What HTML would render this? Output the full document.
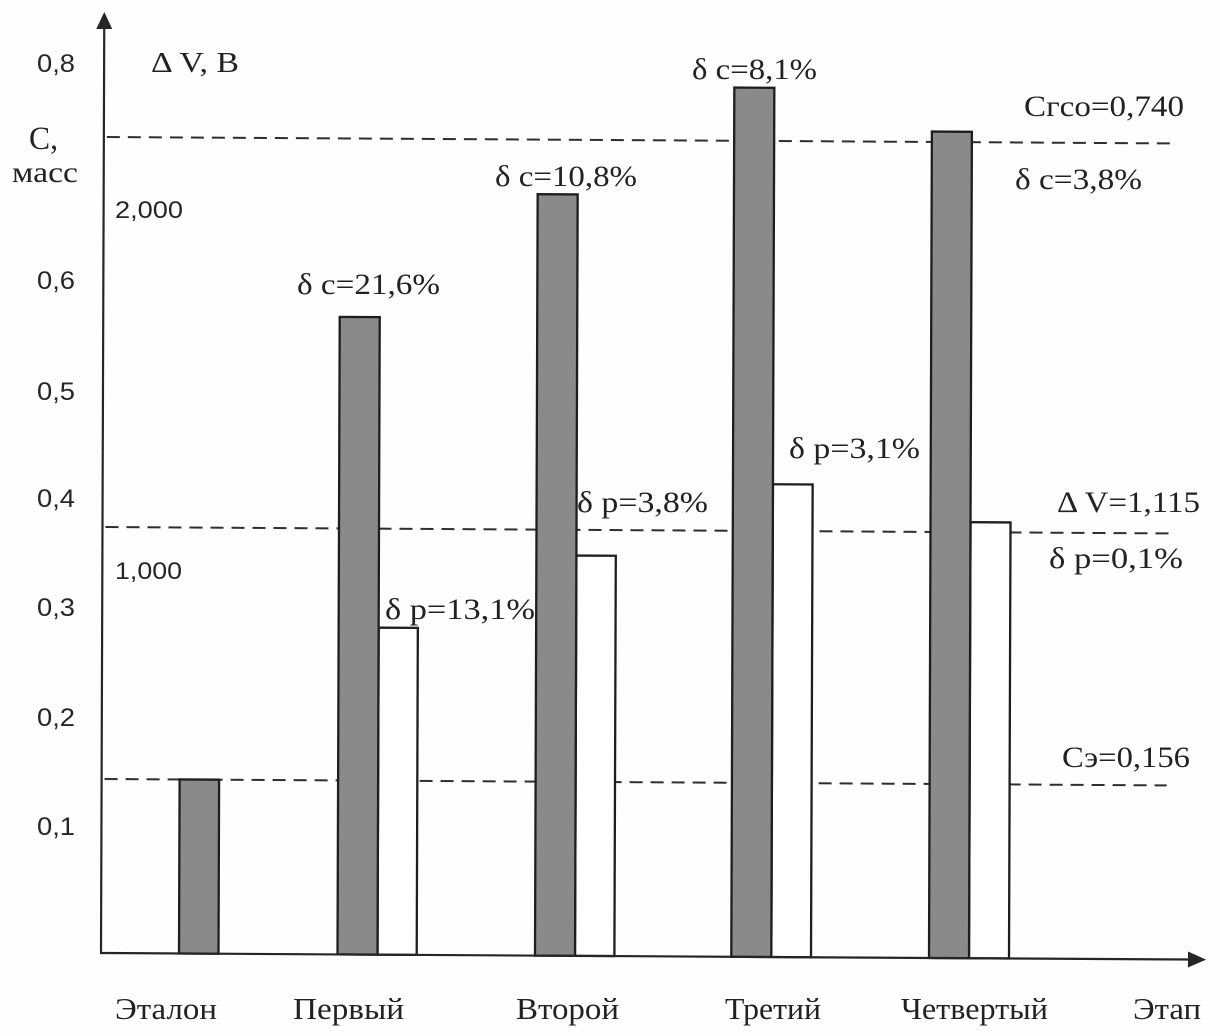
<!DOCTYPE html>
<html>
<head>
<meta charset="utf-8">
<style>
  html, body { margin: 0; padding: 0; background: #fefefe; }
  svg { display: block; }
  .s { font-family: "Liberation Serif", "DejaVu Serif", serif; fill: #222; }
  .a { font-family: "Liberation Sans", "DejaVu Sans", sans-serif; fill: #262626; }
</style>
</head>
<body>
<svg width="1220" height="1036" viewBox="0 0 1220 1036" xmlns="http://www.w3.org/2000/svg">
  <rect x="0" y="0" width="1220" height="1036" fill="#fefefe"/>

  <g transform="matrix(1,0.006,-0.0035,1,3.3355,-0.606)">
    <!-- dashed reference lines -->
    <g stroke="#2e2e2e" stroke-width="2" stroke-dasharray="13 8" fill="none">
      <line x1="104" y1="137" x2="1170" y2="137"/>
      <line x1="104" y1="527" x2="1168" y2="527"/>
      <line x1="104" y1="779" x2="1166" y2="779"/>
    </g>

    <!-- white bars -->
    <g fill="#ffffff" stroke="#1e1e1e" stroke-width="2.3">
      <rect x="377.5" y="626" width="39.2" height="327"/>
      <rect x="575" y="552.7" width="39.4" height="400.3"/>
      <rect x="771.3" y="480.2" width="39.7" height="472.8"/>
      <rect x="969" y="517" width="40" height="436"/>
    </g>

    <!-- dark bars -->
    <g fill="#8a8a8a" stroke="#1e1e1e" stroke-width="2.3">
      <rect x="179" y="779" width="39.5" height="174"/>
      <rect x="337.5" y="315.5" width="40" height="637.5"/>
      <rect x="535" y="191.6" width="40" height="761.4"/>
      <rect x="731.3" y="83.8" width="40" height="869.2"/>
      <rect x="929" y="126.6" width="40" height="826.4"/>
    </g>

    <!-- axes -->
    <g stroke="#262626" stroke-width="2.2" fill="none">
      <line x1="101" y1="953" x2="101" y2="26"/>
      <line x1="100" y1="953" x2="1190" y2="953"/>
    </g>
    <polygon points="101,12 93,29 109,29" fill="#262626"/>
    <polygon points="1206,953 1188,945 1188,961" fill="#262626"/>
  </g>

  <!-- left axis labels (sans) -->
  <text class="a" x="37" y="72" font-size="25" textLength="38" lengthAdjust="spacingAndGlyphs">0,8</text>
  <text class="a" x="37" y="289" font-size="25" textLength="38" lengthAdjust="spacingAndGlyphs">0,6</text>
  <text class="a" x="37" y="400" font-size="25" textLength="38" lengthAdjust="spacingAndGlyphs">0,5</text>
  <text class="a" x="37" y="507" font-size="25" textLength="38" lengthAdjust="spacingAndGlyphs">0,4</text>
  <text class="a" x="37" y="616" font-size="25" textLength="38" lengthAdjust="spacingAndGlyphs">0,3</text>
  <text class="a" x="37" y="726" font-size="25" textLength="38" lengthAdjust="spacingAndGlyphs">0,2</text>
  <text class="a" x="37" y="835" font-size="25" textLength="38" lengthAdjust="spacingAndGlyphs">0,1</text>
  <text class="a" x="115" y="218" font-size="24" textLength="68" lengthAdjust="spacingAndGlyphs">2,000</text>
  <text class="a" x="115" y="579" font-size="24" textLength="67" lengthAdjust="spacingAndGlyphs">1,000</text>

  <!-- axis titles -->
  <text class="s" x="151" y="72" font-size="29" textLength="88" lengthAdjust="spacingAndGlyphs">Δ V, В</text>
  <text class="s" x="29" y="149" font-size="33" textLength="29" lengthAdjust="spacingAndGlyphs">С,</text>
  <text class="s" x="12" y="182" font-size="30" textLength="66" lengthAdjust="spacingAndGlyphs">масс</text>

  <!-- annotations -->
  <text class="s" x="297" y="294" font-size="30" textLength="143" lengthAdjust="spacingAndGlyphs">δ с=21,6%</text>
  <text class="s" x="495" y="186" font-size="30" textLength="142" lengthAdjust="spacingAndGlyphs">δ с=10,8%</text>
  <text class="s" x="692" y="79" font-size="30" textLength="125" lengthAdjust="spacingAndGlyphs">δ с=8,1%</text>
  <text class="s" x="1024" y="116" font-size="30" textLength="160" lengthAdjust="spacingAndGlyphs">Сгсо=0,740</text>
  <text class="s" x="1015" y="189" font-size="30" textLength="127" lengthAdjust="spacingAndGlyphs">δ с=3,8%</text>
  <text class="s" x="385" y="619" font-size="30" textLength="150" lengthAdjust="spacingAndGlyphs">δ р=13,1%</text>
  <text class="s" x="577" y="512" font-size="30" textLength="131" lengthAdjust="spacingAndGlyphs">δ р=3,8%</text>
  <text class="s" x="789" y="458" font-size="30" textLength="131" lengthAdjust="spacingAndGlyphs">δ р=3,1%</text>
  <text class="s" x="1057" y="512" font-size="30" textLength="143" lengthAdjust="spacingAndGlyphs">Δ V=1,115</text>
  <text class="s" x="1049" y="568" font-size="30" textLength="134" lengthAdjust="spacingAndGlyphs">δ р=0,1%</text>
  <text class="s" x="1062" y="767" font-size="30" textLength="128" lengthAdjust="spacingAndGlyphs">Сэ=0,156</text>

  <!-- bottom category labels -->
  <text class="s" x="115" y="1019" font-size="31" textLength="102" lengthAdjust="spacingAndGlyphs">Эталон</text>
  <text class="s" x="293" y="1019" font-size="31" textLength="111" lengthAdjust="spacingAndGlyphs">Первый</text>
  <text class="s" x="516" y="1019" font-size="31" textLength="103" lengthAdjust="spacingAndGlyphs">Второй</text>
  <text class="s" x="725" y="1019" font-size="31" textLength="96" lengthAdjust="spacingAndGlyphs">Третий</text>
  <text class="s" x="901" y="1019" font-size="31" textLength="147" lengthAdjust="spacingAndGlyphs">Четвертый</text>
  <text class="s" x="1133" y="1019" font-size="31" textLength="68" lengthAdjust="spacingAndGlyphs">Этап</text>
</svg>
</body>
</html>
